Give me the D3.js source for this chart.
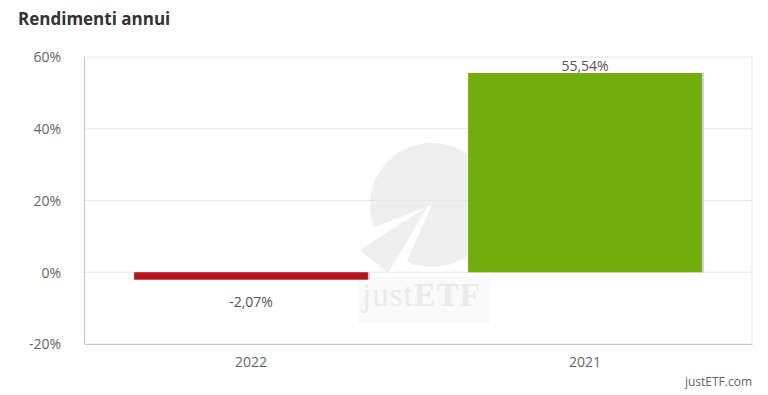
<!DOCTYPE html>
<html lang="it">
<head>
<meta charset="UTF-8">
<title>Rendimenti annui</title>
<script src="https://d3js.org/d3.v7.min.js"></script>
<style>
  body { margin: 0; background: #fff; font-family: "Open Sans", sans-serif; }
  .tick text { fill: #666; font-size: 14px; font-family: "Open Sans", sans-serif; }
</style>
</head>
<body>
<svg width="768" height="395"></svg>
<script>
// data
const years = ["2022", "2021"];
const returns = [-2.07, 55.54];
const yTicks = [-20, 0, 20, 40, 60];
const barColors = ["#b51418", "#71ad0b"];

const svg = d3.select("svg");
const m = { left: 84, right: 16, top: 57, bottom: 51 };
const W = 768, H = 395;

const x = d3.scaleBand().domain(years).range([m.left, W - m.right]).paddingInner(0.3).paddingOuter(0.15);
const y = d3.scaleLinear().domain([-20, 60]).range([H - m.bottom, m.top]);
const fmt = v => (v < 0 ? "-" : "") + Math.abs(v).toFixed(2).replace(".", ",") + "%";
const deg = a => a * Math.PI / 180;

// title
svg.append("text").attr("x", 18).attr("y", 25)
  .attr("font-size", 17).attr("font-weight", 700).attr("fill", "#333")
  .text("Rendimenti annui");

// watermark (pie logo + justETF)
const wm = svg.append("g");
const cx = 432, cy = 205, r = 62;
wm.append("path").attr("transform", `translate(${cx},${cy})`)
  .attr("d", d3.arc().innerRadius(0).outerRadius(r)({ startAngle: deg(249), endAngle: deg(564) }))
  .attr("fill", "#efefef");
wm.append("path")
  .attr("d", "M428,206 L360,250 L388,273 Z")
  .attr("fill", "#efefef");
wm.append("rect").attr("x", 358).attr("y", 277).attr("width", 132).attr("height", 46).attr("fill", "#fafafa");
wm.append("text").attr("x", 362).attr("y", 306)
  .attr("font-family", "Liberation Serif, serif").attr("font-size", 33).attr("fill", "#ebebeb")
  .attr("textLength", 118)
  .text("just").append("tspan").attr("font-weight", 700).text("ETF");

// grid
svg.append("g")
  .selectAll("line").data(yTicks).join("line")
  .attr("x1", m.left).attr("x2", W - m.right)
  .attr("y1", d => y(d)).attr("y2", d => y(d))
  .attr("stroke", "#e6e6e6");
svg.append("line").attr("x1", W - m.right).attr("x2", W - m.right)
  .attr("y1", m.top).attr("y2", H - m.bottom).attr("stroke", "#e6e6e6");

// y axis
const yAxis = svg.append("g").attr("transform", `translate(${m.left - 20},0)`)
  .call(d3.axisLeft(y).tickValues(yTicks).tickSize(0).tickFormat(d => d + "%"));
yAxis.select(".domain").remove();
yAxis.selectAll("text").attr("dy", "0.35em");

// x axis
const xAxis = svg.append("g").attr("transform", `translate(0,${H - m.bottom})`)
  .call(d3.axisBottom(x).tickSize(0).tickPadding(13));
xAxis.select(".domain").attr("stroke", "#c6c6c6");
svg.append("line").attr("x1", m.left + 0.5).attr("x2", m.left + 0.5)
  .attr("y1", m.top).attr("y2", H - m.bottom).attr("stroke", "#c6c6c6");

// bars with right-side shadow
const bars = svg.append("g").selectAll("g").data(years).join("g");
bars.append("rect")
  .attr("x", d => x(d) + 2).attr("width", x.bandwidth())
  .attr("y", (d, i) => Math.min(y(returns[i]), y(0)))
  .attr("height", (d, i) => Math.abs(y(returns[i]) - y(0)))
  .attr("fill", "#d0d0d0");
bars.append("rect")
  .attr("x", d => x(d)).attr("width", x.bandwidth())
  .attr("y", (d, i) => Math.min(y(returns[i]), y(0)))
  .attr("height", (d, i) => Math.abs(y(returns[i]) - y(0)))
  .attr("fill", (d, i) => barColors[i]);

// value labels
bars.append("text")
  .attr("x", d => x(d) + x.bandwidth() / 2)
  .attr("y", (d, i) => returns[i] >= 0 ? y(returns[i]) - 2 : y(returns[i]) + 27)
  .attr("text-anchor", "middle").attr("font-size", 14).attr("fill", "#555")
  .text((d, i) => fmt(returns[i]));

// credit
svg.append("text").attr("x", W - m.right).attr("y", 386).attr("text-anchor", "end")
  .attr("font-size", 12).attr("fill", "#666").text("justETF.com");
</script>
</body>
</html>
